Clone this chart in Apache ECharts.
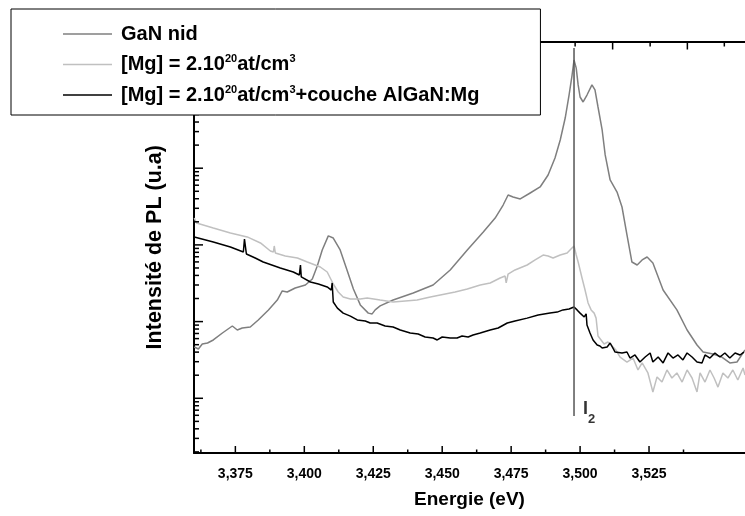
<!DOCTYPE html>
<html>
<head>
<meta charset="utf-8">
<script src="https://cdn.jsdelivr.net/npm/echarts@6/dist/echarts.min.js"></script>
<style>
  html, body { margin: 0; padding: 0; background: #fff; }
  #main { width: 745px; height: 516px; }
</style>
</head>
<body>
<div id="main"></div>
<script>
// energies (eV) and PL intensities (u.a)
var ganE = [3.3601, 3.3616, 3.3630, 3.3649, 3.3670, 3.3703, 3.3739, 3.3757, 3.3775, 3.3804, 3.3833, 3.3870, 3.3902, 3.3920, 3.3938, 3.3967, 3.4004, 3.4029, 3.4047, 3.4065, 3.4087, 3.4105, 3.4130, 3.4156, 3.4178, 3.4203, 3.4232, 3.4246, 3.4257, 3.4275, 3.4322, 3.4395, 3.4467, 3.4529, 3.4591, 3.4649, 3.4692, 3.4721, 3.4739, 3.4757, 3.4783, 3.4819, 3.4855, 3.4884, 3.4909, 3.4928, 3.4946, 3.4960, 3.4971, 3.4978, 3.4986, 3.4993, 3.5000, 3.5011, 3.5025, 3.5043, 3.5054, 3.5065, 3.5080, 3.5091, 3.5109, 3.5134, 3.5152, 3.5170, 3.5188, 3.5207, 3.5225, 3.5243, 3.5264, 3.5301, 3.5351, 3.5388, 3.5424, 3.5446, 3.5482, 3.5514, 3.5543, 3.5569, 3.5598]
var ganI = [46.7, 43.9, 51.0, 52.6, 57.6, 71.0, 87.6, 77.7, 82.5, 85.0, 105, 142, 191, 251, 243, 274, 300, 359, 531, 858, 1310, 1230, 858, 457, 266, 165, 129, 126, 142, 160, 191, 236, 300, 471, 858, 1470, 2240, 3310, 4470, 4210, 3970, 4750, 5690, 8150, 13600, 23300, 45100, 90000, 164000, 257000, 202000, 122000, 84800, 73000, 90000, 122000, 105000, 62800, 31500, 14900, 7020, 4890, 3120, 1350, 598, 547, 636, 695, 581, 258, 142, 77.7, 49.5, 40.1, 37.8, 34.5, 28.9, 29.7, 42.6]

var mgE = [3.3601, 3.3609, 3.3670, 3.3732, 3.3793, 3.3841, 3.3877, 3.3888, 3.3891, 3.3895, 3.3931, 3.3975, 3.4011, 3.4058, 3.4083, 3.4105, 3.4123, 3.4141, 3.4167, 3.4203, 3.4228, 3.4275, 3.4322, 3.4366, 3.4409, 3.4457, 3.4493, 3.4547, 3.4591, 3.4638, 3.4674, 3.4710, 3.4728, 3.4732, 3.4739, 3.4764, 3.4808, 3.4837, 3.4866, 3.4884, 3.4902, 3.4928, 3.4953, 3.4967, 3.4978, 3.4986, 3.4993, 3.5000, 3.5007, 3.5018, 3.5029, 3.5040, 3.5051, 3.5058, 3.5065, 3.5076, 3.5087, 3.5101, 3.5116, 3.5130, 3.5145, 3.5170, 3.5192, 3.5210, 3.5225, 3.5246, 3.5264, 3.5279, 3.5297, 3.5315, 3.5333, 3.5351, 3.5370, 3.5388, 3.5406, 3.5424, 3.5435, 3.5453, 3.5471, 3.5486, 3.5500, 3.5518, 3.5536, 3.5554, 3.5572, 3.5591, 3.5598]
var mgI = [2240, 1930, 1660, 1430, 1270, 1060, 833, 808, 968, 784, 717, 675, 598, 515, 443, 309, 243, 209, 197, 197, 203, 191, 180, 186, 191, 209, 222, 243, 266, 300, 319, 370, 393, 319, 417, 471, 547, 636, 738, 717, 675, 738, 784, 884, 968, 738, 598, 564, 370, 258, 175, 142, 129, 111, 64.9, 57.6, 51.0, 54.2, 48.1, 42.6, 34.5, 29.7, 33.5, 23.4, 28.9, 21.4, 12.1, 19.0, 16.3, 23.4, 18.4, 21.4, 16.3, 23.4, 18.4, 12.1, 21.4, 16.3, 23.4, 18.4, 14.0, 21.4, 18.4, 23.4, 17.3, 24.8, 20.1]

var alE = [3.3601, 3.3670, 3.3732, 3.3779, 3.3783, 3.3786, 3.3790, 3.3822, 3.3851, 3.3913, 3.3960, 3.3982, 3.3986, 3.3989, 3.4022, 3.4051, 3.4083, 3.4098, 3.4101, 3.4105, 3.4120, 3.4141, 3.4167, 3.4192, 3.4221, 3.4239, 3.4264, 3.4293, 3.4322, 3.4348, 3.4384, 3.4413, 3.4438, 3.4467, 3.4482, 3.4500, 3.4529, 3.4554, 3.4572, 3.4594, 3.4612, 3.4638, 3.4674, 3.4703, 3.4736, 3.4764, 3.4808, 3.4848, 3.4891, 3.4917, 3.4938, 3.4960, 3.4978, 3.4989, 3.5000, 3.5015, 3.5022, 3.5025, 3.5036, 3.5047, 3.5062, 3.5072, 3.5080, 3.5098, 3.5109, 3.5127, 3.5152, 3.5170, 3.5181, 3.5199, 3.5217, 3.5236, 3.5254, 3.5264, 3.5283, 3.5301, 3.5319, 3.5337, 3.5355, 3.5373, 3.5388, 3.5406, 3.5424, 3.5442, 3.5453, 3.5471, 3.5489, 3.5507, 3.5525, 3.5543, 3.5562, 3.5580, 3.5594]
var alI = [1270, 1090, 939, 808, 1190, 1230, 761, 675, 598, 500, 443, 405, 547, 382, 328, 309, 283, 258, 319, 180, 150, 129, 118, 105, 102, 95.9, 95.9, 87.6, 85.0, 77.7, 71.0, 68.9, 63.0, 61.1, 57.6, 63.0, 61.1, 61.1, 64.9, 63.0, 66.9, 71.0, 77.7, 82.5, 95.9, 102, 111, 122, 129, 133, 142, 146, 155, 142, 129, 115, 126, 90.3, 71.0, 57.6, 49.5, 48.1, 45.3, 46.7, 52.6, 40.1, 39.0, 40.1, 33.5, 36.7, 29.7, 34.5, 39.0, 29.7, 34.5, 28.9, 39.0, 33.5, 36.7, 31.6, 39.0, 34.5, 29.7, 28.9, 36.7, 33.5, 39.0, 34.5, 39.0, 33.5, 39.0, 36.7, 40.1]

// I2 marker line
var i2E = 3.4978
var i2I = [369000, 5.88]

var seriesNames = ['GaN nid', '[Mg] = 2.10^20at/cm^3', '[Mg] = 2.10^20at/cm^3+couche AlGaN:Mg']

// axes
var X_MIN = 3.36
var X_MAX = 3.5598
var Y_MIN = 1.935
var Y_MAX = 448700
var xTickValues = [3.375, 3.4, 3.425, 3.45, 3.475, 3.5, 3.525]
var xMinorValues = [3.3625, 3.3875, 3.4125, 3.4375, 3.4625, 3.4875, 3.5125, 3.5375]
var topLongValues = [3.5118, 3.5389]
var topShortValues = [3.4982, 3.5254, 3.5523]
var yDecades = [1, 10, 100, 1000, 10000, 100000]
var yMinorSteps = [2, 3, 4, 5, 6, 7, 8, 9]

function pairs (xs, ys) {
  return xs.map(function (x, i) { return [x, ys[i]] })
}

// y ticks: [X_MIN, value, length]
var yTicks = []
yDecades.forEach(function (d) {
  if (d >= Y_MIN && d <= Y_MAX) yTicks.push([X_MIN, d, 9])
  yMinorSteps.forEach(function (k) {
    var v = k * d
    if (v >= Y_MIN && v <= Y_MAX) yTicks.push([X_MIN, v, 5])
  })
})
// x ticks: [value, 100, length]  negative length = bottom axis, positive = top axis
var xTicks = []
xTickValues.forEach(function (v) { xTicks.push([v, 100, -7]) })
xMinorValues.forEach(function (v) { xTicks.push([v, 100, -3.5]) })
topLongValues.forEach(function (v) { xTicks.push([v, 100, 8]) })
topShortValues.forEach(function (v) { xTicks.push([v, 100, 5]) })

var FONT = 'Liberation Sans, Arial, sans-serif'

var myChart = echarts.init(document.getElementById('main'))
var option = {
  animation: false,
  backgroundColor: '#fff',
  textStyle: { fontFamily: FONT },
  grid: { left: 194, right: 0, top: 41.5, bottom: 63 },
  legend: {
    data: seriesNames,
    orient: 'vertical',
    left: 11,
    top: 9,
    padding: [15, 61, 10, 52],
    itemGap: 9.5,
    itemWidth: 49,
    itemHeight: 1.6,
    icon: 'rect',
    backgroundColor: '#fff',
    borderColor: '#000',
    borderWidth: 1,
    z: 10,
    formatter: function (name) {
      return '{g|}{n|' + name.replace(/\^(\d+)/g, '}{s|$1}{n|') + '}'
    },
    textStyle: {
      color: '#000',
      fontFamily: FONT,
      fontWeight: 'bold',
      fontSize: 20,
      rich: {
        g: { width: 4 },
        n: { fontFamily: FONT, fontWeight: 'bold', fontSize: 20, lineHeight: 22, color: '#000' },
        s: { fontFamily: FONT, fontWeight: 'bold', fontSize: 11, lineHeight: 11, verticalAlign: 'top', color: '#000' }
      }
    }
  },
  xAxis: [
    {
      type: 'value',
      min: X_MIN,
      max: X_MAX,
      position: 'bottom',
      name: 'Energie (eV)',
      nameLocation: 'middle',
      nameGap: 37,
      nameTextStyle: { fontFamily: FONT, fontWeight: 'bold', fontSize: 19, color: '#000' },
      axisLine: { lineStyle: { color: '#000', width: 2 } },
      axisTick: { show: false },
      axisLabel: {
        customValues: xTickValues,
        margin: 14,
        fontFamily: FONT,
        fontWeight: 'bold',
        fontSize: 14,
        color: '#000',
        formatter: function (v) { return v.toFixed(3).replace('.', ',') }
      },
      splitLine: { show: false }
    },
    {
      type: 'value',
      min: X_MIN,
      max: X_MAX,
      position: 'top',
      axisLine: { lineStyle: { color: '#000', width: 2 } },
      axisTick: { show: false },
      axisLabel: { show: false },
      splitLine: { show: false }
    }
  ],
  yAxis: {
    type: 'log',
    min: Y_MIN,
    max: Y_MAX,
    name: 'Intensité de PL (u.a)',
    nameLocation: 'middle',
    nameGap: 28,
    nameTextStyle: { fontFamily: FONT, fontWeight: 'bold', fontSize: 21.5, color: '#000' },
    axisLine: { lineStyle: { color: '#000', width: 2 } },
    axisTick: { show: false },
    axisLabel: { show: false },
    splitLine: { show: false }
  },
  series: [
    {
      name: 'xticks',
      type: 'custom',
      silent: true,
      z: 5,
      encode: { x: 0, y: 1 },
      renderItem: function (params, api) {
        var p = api.coord([api.value(0), api.value(1)])
        var rect = params.coordSys
        var len = api.value(2)
        var y0 = len > 0 ? rect.y : rect.y + rect.height
        return {
          type: 'line',
          shape: { x1: p[0], y1: y0, x2: p[0], y2: y0 + len },
          style: { stroke: '#000', lineWidth: 1.5 }
        }
      },
      data: xTicks
    },
    {
      name: seriesNames[0],
      type: 'line',
      symbol: 'none',
      color: '#7f7f7f',
      lineStyle: { color: '#7f7f7f', width: 1.5 },
      data: pairs(ganE, ganI)
    },
    {
      name: seriesNames[1],
      type: 'line',
      symbol: 'none',
      color: '#c0c0c0',
      lineStyle: { color: '#c0c0c0', width: 1.5 },
      data: pairs(mgE, mgI)
    },
    {
      name: seriesNames[2],
      type: 'line',
      symbol: 'none',
      color: '#000',
      lineStyle: { color: '#000', width: 1.5 },
      data: pairs(alE, alI)
    },
    {
      name: 'I2',
      type: 'line',
      symbol: 'none',
      color: '#555',
      lineStyle: { color: '#555', width: 1.5 },
      data: [[i2E, i2I[0]], [i2E, i2I[1]]]
    },
    {
      name: 'I2 label',
      type: 'scatter',
      symbolSize: 0.1,
      itemStyle: { color: '#fff' },
      silent: true,
      label: {
        show: true,
        position: 'right',
        distance: 5,
        offset: [4, -7],
        formatter: '{a|I}{b|2}',
        rich: {
          a: { fontFamily: FONT, fontWeight: 'bold', fontSize: 18, lineHeight: 18, color: '#000' },
          b: { fontFamily: FONT, fontWeight: 'bold', fontSize: 13, lineHeight: 13, padding: [20, 0, 0, 0], color: '#000' }
        }
      },
      data: [[i2E, i2I[1]]]
    },
    {
      name: 'yticks',
      type: 'custom',
      silent: true,
      clip: false,
      z: 5,
      encode: { x: 0, y: 1 },
      renderItem: function (params, api) {
        var p = api.coord([api.value(0), api.value(1)])
        return {
          type: 'line',
          shape: { x1: p[0], y1: p[1], x2: p[0] + api.value(2), y2: p[1] },
          style: { stroke: '#000', lineWidth: 1.5 }
        }
      },
      data: yTicks
    }
  ]
}
option && myChart.setOption(option)
</script>
</body>
</html>
